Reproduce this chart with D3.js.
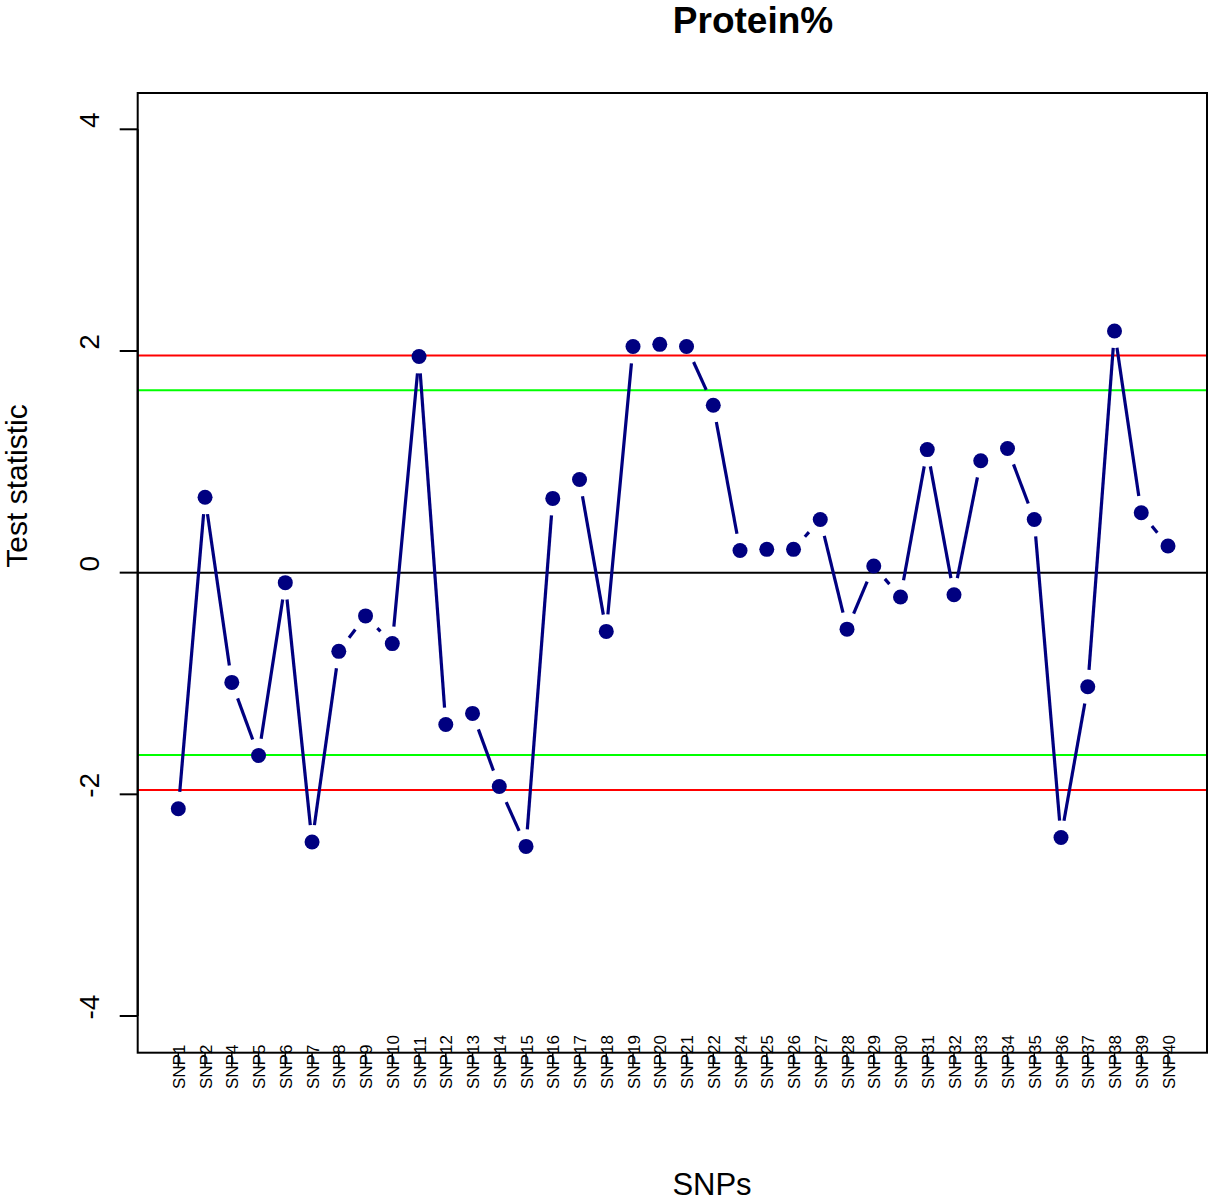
<!DOCTYPE html>
<html>
<head>
<meta charset="utf-8">
<script src="https://cdn.jsdelivr.net/npm/d3@7"></script>
<style>
  html, body { margin: 0; padding: 0; background: #ffffff; }
  svg text { font-family: "Liberation Sans", Arial, Helvetica, sans-serif; fill: #000; }
</style>
</head>
<body>
<svg id="chart" width="1208" height="1200"></svg>
<script>
// SNP marker names along the x axis
const snps = ["SNP1","SNP2","SNP4","SNP5","SNP6","SNP7","SNP8","SNP9","SNP10","SNP11",
  "SNP12","SNP13","SNP14","SNP15","SNP16","SNP17","SNP18","SNP19","SNP20","SNP21",
  "SNP22","SNP24","SNP25","SNP26","SNP27","SNP28","SNP29","SNP30","SNP31","SNP32",
  "SNP33","SNP34","SNP35","SNP36","SNP37","SNP38","SNP39","SNP40"];
// Test statistic per SNP
const testStat = [-2.13, 0.68, -0.99, -1.65, -0.09, -2.43, -0.71, -0.39, -0.64, 1.95,
  -1.37, -1.27, -1.93, -2.47, 0.67, 0.84, -0.53, 2.04, 2.06, 2.04,
  1.51, 0.20, 0.21, 0.21, 0.48, -0.51, 0.06, -0.22, 1.11, -0.20,
  1.01, 1.12, 0.48, -2.39, -1.03, 2.18, 0.54, 0.24];
// y axis ticks
const yTicks = [-4, -2, 0, 2, 4];
// significance thresholds (two-sided 5% and 10%)
const thresholds = [
  { value: 1.96, color: "#ff0000" },
  { value: -1.96, color: "#ff0000" },
  { value: 1.645, color: "#00ff00" },
  { value: -1.645, color: "#00ff00" }
];

const svg = d3.select("#chart");
const box = { left: 137.7, right: 1207, top: 93, bottom: 1052.7 };

const x = d3.scaleLinear().domain([1, snps.length]).range([178.3, 1168]);
const y = d3.scaleLinear().domain([-4, 4]).range([1016, 129.3]);

// threshold lines and zero line
svg.selectAll("line.thr").data(thresholds).join("line")
  .attr("class", "thr")
  .attr("x1", box.left).attr("x2", box.right)
  .attr("y1", d => y(d.value)).attr("y2", d => y(d.value))
  .attr("stroke", d => d.color).attr("stroke-width", 2);
svg.append("line")
  .attr("x1", box.left).attr("x2", box.right)
  .attr("y1", y(0)).attr("y2", y(0))
  .attr("stroke", "#000").attr("stroke-width", 2);

// connecting segments, trimmed near each point
const gap = 17;
const pts = testStat.map((v, i) => [x(i + 1), y(v)]);
const segs = [];
for (let i = 0; i < pts.length - 1; i++) {
  const [x0, y0] = pts[i], [x1, y1] = pts[i + 1];
  const len = Math.hypot(x1 - x0, y1 - y0);
  if (len > 2 * gap) {
    const ux = (x1 - x0) / len, uy = (y1 - y0) / len;
    segs.push([x0 + ux * gap, y0 + uy * gap, x1 - ux * gap, y1 - uy * gap]);
  }
}
svg.selectAll("line.seg").data(segs).join("line")
  .attr("class", "seg")
  .attr("x1", d => d[0]).attr("y1", d => d[1])
  .attr("x2", d => d[2]).attr("y2", d => d[3])
  .attr("stroke", "#000080").attr("stroke-width", 3.2);

// points
svg.selectAll("circle.pt").data(testStat).join("circle")
  .attr("class", "pt")
  .attr("cx", (d, i) => x(i + 1)).attr("cy", d => y(d))
  .attr("r", 7.5).attr("fill", "#000080");

// plot frame
svg.append("rect")
  .attr("x", box.left).attr("y", box.top)
  .attr("width", box.right - box.left).attr("height", box.bottom - box.top)
  .attr("fill", "none").attr("stroke", "#000").attr("stroke-width", 2);

// y axis
const yAxis = svg.append("g");
yAxis.append("line")
  .attr("x1", box.left).attr("x2", box.left)
  .attr("y1", y(4)).attr("y2", y(-4))
  .attr("stroke", "#000").attr("stroke-width", 2);
yAxis.selectAll("line.tick").data(yTicks).join("line")
  .attr("class", "tick")
  .attr("x1", box.left - 18).attr("x2", box.left)
  .attr("y1", d => y(d)).attr("y2", d => y(d))
  .attr("stroke", "#000").attr("stroke-width", 2);
yAxis.selectAll("text").data(yTicks).join("text")
  .attr("transform", d => `translate(99,${y(d) - 9}) rotate(-90)`)
  .attr("text-anchor", "middle")
  .attr("font-size", 28)
  .text(d => d);

// x axis ticks and labels (labels read upward from a common base)
const xAxis = svg.append("g");
xAxis.selectAll("line").data(snps).join("line")
  .attr("x1", (d, i) => x(i + 1)).attr("x2", (d, i) => x(i + 1))
  .attr("y1", box.bottom).attr("y2", box.bottom + 14)
  .attr("stroke", "#000").attr("stroke-width", 1.5);
xAxis.selectAll("text").data(snps).join("text")
  .attr("transform", (d, i) => `translate(${x(i + 1) + 6.5},1089) rotate(-90)`)
  .attr("text-anchor", "start")
  .attr("font-size", 17)
  .text(d => d);

// titles
svg.append("text")
  .attr("x", 753).attr("y", 33)
  .attr("text-anchor", "middle")
  .attr("font-size", 37).attr("font-weight", "bold")
  .text("Protein%");
svg.append("text")
  .attr("x", 712).attr("y", 1195)
  .attr("text-anchor", "middle")
  .attr("font-size", 31)
  .text("SNPs");
svg.append("text")
  .attr("transform", "translate(27,486) rotate(-90)")
  .attr("text-anchor", "middle")
  .attr("font-size", 30)
  .text("Test statistic");
</script>
</body>
</html>
